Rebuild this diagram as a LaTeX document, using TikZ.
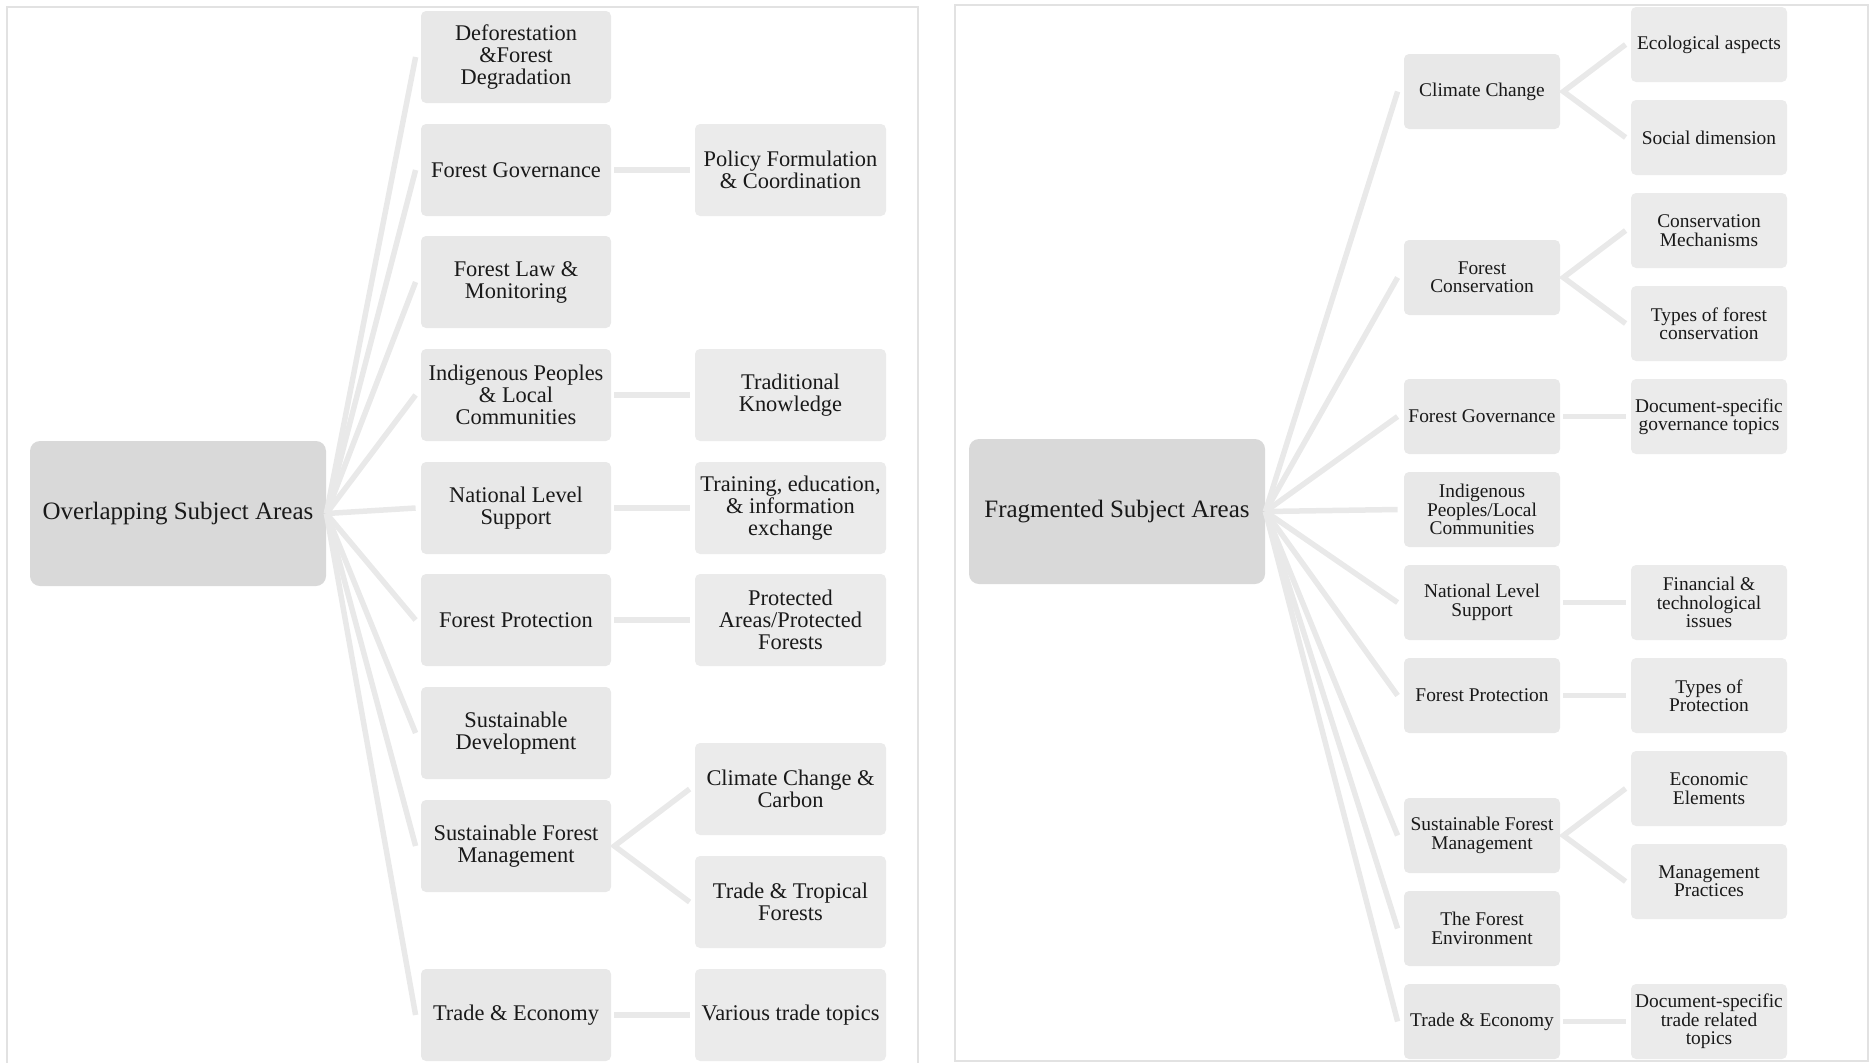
\documentclass[tikz,border=0pt]{standalone}
\usepackage{fontspec}
\setmainfont{Liberation Serif}
\usetikzlibrary{calc}

\definecolor{rootgray}{RGB}{217,217,217}
\definecolor{boxgray}{RGB}{232,232,232}
\definecolor{subgray}{RGB}{235,235,235}
\definecolor{linkgray}{RGB}{233,233,233}
\definecolor{framegray}{RGB}{226,226,226}
\definecolor{ink}{RGB}{25,25,25}

\tikzset{
  panel/.style={draw=framegray, line width=1pt},
  rootbox/.style={fill=rootgray, rounded corners=5pt, inner sep=0pt,
    minimum width=148pt, minimum height=72.5pt, text=ink, align=center,
    font=\fontsize{12.5}{15}\selectfont},
  lbox/.style={fill=boxgray, rounded corners=2.5pt, inner sep=0pt,
    minimum width=95pt, minimum height=46pt, text=ink, align=center,
    font=\fontsize{11.2}{11}\selectfont},
  lsub/.style={lbox, fill=subgray, minimum width=95.5pt},
  rbox/.style={fill=boxgray, rounded corners=2.5pt, inner sep=0pt,
    minimum width=78pt, minimum height=37.5pt, text=ink, align=center,
    font=\fontsize{9.7}{9.2}\selectfont},
  rsub/.style={rbox, fill=subgray},
  link/.style={draw=linkgray, line width=2.75pt},
}

\begin{document}
\begin{tikzpicture}[x=0.5pt,y=-0.5pt]
\useasboundingbox (0,0) rectangle (1870,1062);
\clip (0,0) rectangle (1870,1062);

% panel frames
\draw[panel] (7,7) rectangle (918,1075);
\draw[panel] (955,5) rectangle (1868,1061);

% ---------- Overlapping subject areas ----------
\node[rootbox] (oroot) at (178,513.5) {Overlapping Subject Areas};

\node[lbox] (oa1) at (516,57)   {Deforestation\\\&Forest\\Degradation};
\node[lbox] (oa2) at (516,170)  {Forest Governance};
\node[lbox] (oa3) at (516,282)  {Forest Law \&\\Monitoring};
\node[lbox] (oa4) at (516,395)  {Indigenous Peoples\\\& Local\\Communities};
\node[lbox] (oa5) at (516,508)  {National Level\\Support};
\node[lbox] (oa6) at (516,620)  {Forest Protection};
\node[lbox] (oa7) at (516,733)  {Sustainable\\Development};
\node[lbox] (oa8) at (516,846)  {Sustainable Forest\\Management};
\node[lbox] (oa9) at (516,1015) {Trade \& Economy};

\node[lsub] (ob1) at (790.5,170)  {Policy Formulation\\\& Coordination};
\node[lsub] (ob2) at (790.5,395)  {Traditional\\Knowledge};
\node[lsub] (ob3) at (790.5,508)  {Training, education,\\\& information\\exchange};
\node[lsub] (ob4) at (790.5,620)  {Protected\\Areas/Protected\\Forests};
\node[lsub] (ob5) at (790.5,789)  {Climate Change \&\\Carbon};
\node[lsub] (ob6) at (790.5,902)  {Trade \& Tropical\\Forests};
\node[lsub] (ob7) at (790.5,1015) {Various trade topics};

\foreach \n in {oa1,oa2,oa3,oa4,oa5,oa6,oa7,oa8,oa9}
  \draw[link] (oroot.east) -- ($(\n.west)+(-5,0)$);

\draw[link] ($(oa2.east)+(3,0)$) -- ($(ob1.west)+(-5,0)$);
\draw[link] ($(oa4.east)+(3,0)$) -- ($(ob2.west)+(-5,0)$);
\draw[link] ($(oa5.east)+(3,0)$) -- ($(ob3.west)+(-5,0)$);
\draw[link] ($(oa6.east)+(3,0)$) -- ($(ob4.west)+(-5,0)$);
\draw[link] ($(ob5.west)+(-5,0)$) -- ($(oa8.east)+(3,0)$) -- ($(ob6.west)+(-5,0)$);
\draw[link] ($(oa9.east)+(3,0)$) -- ($(ob7.west)+(-5,0)$);

% ---------- Fragmented subject areas ----------
\node[rootbox] (froot) at (1117,511.5) {Fragmented Subject Areas};

\node[rbox] (fa1) at (1482,91.5)   {Climate Change};
\node[rbox] (fa2) at (1482,277.5)  {Forest\\Conservation};
\node[rbox] (fa3) at (1482,416.5)  {Forest Governance};
\node[rbox] (fa4) at (1482,509.5)  {Indigenous\\Peoples/Local\\Communities};
\node[rbox] (fa5) at (1482,602.5)  {National Level\\Support};
\node[rbox] (fa6) at (1482,695.5)  {Forest Protection};
\node[rbox] (fa7) at (1482,835.5)  {Sustainable Forest\\Management};
\node[rbox] (fa8) at (1482,928.5)  {The Forest\\Environment};
\node[rbox] (fa9) at (1482,1021.5) {Trade \& Economy};

\node[rsub] (fb1)  at (1709,44.5)   {Ecological aspects};
\node[rsub] (fb2)  at (1709,137.5)  {Social dimension};
\node[rsub] (fb3)  at (1709,230.5)  {Conservation\\Mechanisms};
\node[rsub] (fb4)  at (1709,323.5)  {Types of forest\\conservation};
\node[rsub] (fb5)  at (1709,416.5)  {Document-specific\\governance topics};
\node[rsub] (fb6)  at (1709,602.5)  {Financial \&\\technological\\issues};
\node[rsub] (fb7)  at (1709,695.5)  {Types of\\Protection};
\node[rsub] (fb8)  at (1709,788.5)  {Economic\\Elements};
\node[rsub] (fb9)  at (1709,881.5)  {Management\\Practices};
\node[rsub] (fb10) at (1709,1021.5) {Document-specific\\trade related\\topics};

\foreach \n in {fa1,fa2,fa3,fa4,fa5,fa6,fa7,fa8,fa9}
  \draw[link] (froot.east) -- ($(\n.west)+(-6,0)$);

\draw[link] ($(fb1.west)+(-5,0)$) -- ($(fa1.east)+(3,0)$) -- ($(fb2.west)+(-5,0)$);
\draw[link] ($(fb3.west)+(-5,0)$) -- ($(fa2.east)+(3,0)$) -- ($(fb4.west)+(-5,0)$);
\draw[link] ($(fa3.east)+(3,0)$) -- ($(fb5.west)+(-5,0)$);
\draw[link] ($(fa5.east)+(3,0)$) -- ($(fb6.west)+(-5,0)$);
\draw[link] ($(fa6.east)+(3,0)$) -- ($(fb7.west)+(-5,0)$);
\draw[link] ($(fb8.west)+(-5,0)$) -- ($(fa7.east)+(3,0)$) -- ($(fb9.west)+(-5,0)$);
\draw[link] ($(fa9.east)+(3,0)$) -- ($(fb10.west)+(-5,0)$);
\end{tikzpicture}
\end{document}
